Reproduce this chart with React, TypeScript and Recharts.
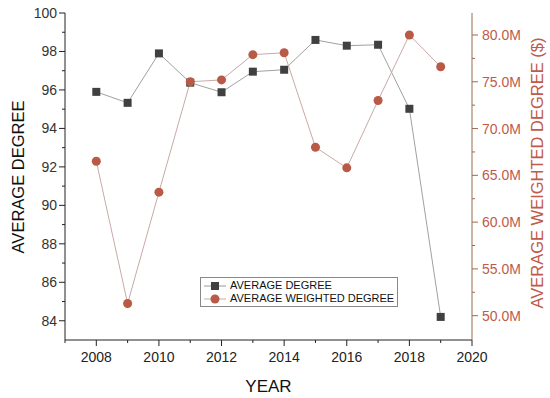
import { LineChart, Line, XAxis, YAxis, Legend } from 'recharts'

const years = [2008, 2009, 2010, 2011, 2012, 2013, 2014, 2015, 2016, 2017, 2018, 2019]
const avgDegree = [95.9, 95.33, 97.9, 96.38, 95.88, 96.95, 97.05, 98.6, 98.3, 98.35, 95.02, 84.2]
const avgWeighted = [66.5, 51.3, 63.2, 75.0, 75.2, 77.9, 78.1, 68.0, 65.8, 73.0, 80.0, 76.6]

const xTicks = [2007, 2008, 2009, 2010, 2011, 2012, 2013, 2014, 2015, 2016, 2017, 2018, 2019, 2020]
const leftTicks = [84, 85, 86, 87, 88, 89, 90, 91, 92, 93, 94, 95, 96, 97, 98, 99, 100]
const rightTicks = [50, 52.5, 55, 57.5, 60, 62.5, 65, 67.5, 70, 72.5, 75, 77.5, 80]

const data = years.map((year, i) => ({
  year,
  deg: avgDegree[i],
  wdeg: avgWeighted[i] * 1e6,
}))

const FONT = '"Liberation Sans", Arial, sans-serif'
const RED = '#b85a45'
const RED_TEXT = '#c05a4a'

const BottomTick = (props: any) => {
  const { x, y, payload } = props
  const major = payload.value % 2 === 0
  return (
    <g>
      <line x1={x} y1={y} x2={x} y2={y + (major ? 6 : 3)} stroke="#222" />
      {major && payload.value !== 2007 && (
        <text x={x} y={y + 17} textAnchor="middle" dominantBaseline="central" fontSize={14} fill="#222" fontFamily={FONT}>
          {payload.value}
        </text>
      )}
    </g>
  )
}

const TopTick = (props: any) => {
  const { x, y } = props
  return <line x1={x} y1={y} x2={x} y2={y + 5} stroke="#222" />
}

const LeftTick = (props: any) => {
  const { x, y, payload } = props
  const major = payload.value % 2 === 0
  return (
    <g>
      <line x1={x} y1={y} x2={x - (major ? 6 : 3)} y2={y} stroke="#222" />
      {major && (
        <text x={x - 8} y={y} textAnchor="end" dominantBaseline="central" fontSize={14} fill="#333" fontFamily={FONT}>
          {payload.value}
        </text>
      )}
    </g>
  )
}

const RightTick = (props: any) => {
  const { x, y, payload } = props
  const v = payload.value / 1e6
  const major = Math.abs(v % 5) < 0.01
  return (
    <g>
      <line x1={x} y1={y} x2={x + (major ? 6 : 3)} y2={y} stroke="#9a6a50" />
      {major && (
        <text x={x + 10} y={y} textAnchor="start" dominantBaseline="central" fontSize={14} fill={RED_TEXT} fontFamily={FONT}>
          {v.toFixed(1)}M
        </text>
      )}
    </g>
  )
}

const SquareDot = (props: any) => {
  const { cx, cy } = props
  if (cx == null || cy == null) return null
  return <rect x={cx - 4} y={cy - 4} width={8} height={8} fill="#404040" />
}

const CircleDot = (props: any) => {
  const { cx, cy } = props
  if (cx == null || cy == null) return null
  return <circle cx={cx} cy={cy} r={4.5} fill={RED} />
}

const LegendBox = () => (
  <div
    style={{
      border: '1px solid #888',
      background: '#fff',
      padding: '1px 3px',
      fontFamily: FONT,
      fontSize: 11,
      color: '#111',
      lineHeight: '13px',
    }}
  >
    <div style={{ display: 'flex', alignItems: 'center' }}>
      <svg width={22} height={12}>
        <line x1={0} y1={6} x2={22} y2={6} stroke="#999" />
        <rect x={7} y={2} width={8} height={8} fill="#404040" />
      </svg>
      <span style={{ marginLeft: 4 }}>AVERAGE DEGREE</span>
    </div>
    <div style={{ display: 'flex', alignItems: 'center' }}>
      <svg width={22} height={12}>
        <line x1={0} y1={6} x2={22} y2={6} stroke="#c9a9a6" />
        <circle cx={11} cy={6} r={4.5} fill={RED} />
      </svg>
      <span style={{ marginLeft: 4 }}>AVERAGE WEIGHTED DEGREE</span>
    </div>
  </div>
)

export default function App() {
  return (
    <div style={{ position: 'absolute', left: 0, top: 0, background: '#fff' }}>
      <LineChart width={550} height={398} data={data} margin={{ top: 13, right: 18, bottom: 28, left: 15 }}>
        <XAxis
          dataKey="year"
          type="number"
          domain={[2007, 2020]}
          ticks={xTicks}
          interval={0}
          height={30}
          tickSize={0}
          tickMargin={0}
          tick={BottomTick}
          stroke="#222"
          label={{ value: 'YEAR', position: 'insideBottom', offset: -22, fontSize: 17, fill: '#111', fontFamily: FONT }}
        />
        <XAxis
          xAxisId="top"
          dataKey="year"
          type="number"
          orientation="top"
          domain={[2007, 2020]}
          ticks={xTicks}
          interval={0}
          height={0}
          tickSize={0}
          tickMargin={0}
          tick={TopTick}
          stroke="#222"
        />
        <YAxis
          yAxisId="left"
          type="number"
          domain={[83, 100]}
          ticks={leftTicks}
          interval={0}
          width={50}
          tickSize={0}
          tickMargin={0}
          tick={LeftTick}
          stroke="#222"
          label={{
            content: () => (
              <text x={18} y={177} transform="rotate(-90, 18, 177)" textAnchor="middle" dominantBaseline="central" fontSize={16.5} fill="#111" fontFamily={FONT}>
                AVERAGE DEGREE
              </text>
            ),
          }}
        />
        <YAxis
          yAxisId="right"
          orientation="right"
          type="number"
          domain={[47.4e6, 82.35e6]}
          ticks={rightTicks.map((t) => t * 1e6)}
          interval={0}
          width={60}
          tickSize={0}
          tickMargin={0}
          tick={RightTick}
          stroke="#9a6a50"
          label={{
            content: () => (
              <text x={537} y={173} transform="rotate(-90, 537, 173)" textAnchor="middle" dominantBaseline="central" fontSize={16.5} fill={RED_TEXT} fontFamily={FONT}>
                AVERAGE WEIGHTED DEGREE ($)
              </text>
            ),
          }}
        />
        <Legend
          layout="vertical"
          align="center"
          verticalAlign="middle"
          content={<LegendBox />}
          wrapperStyle={{ position: 'absolute', left: 200, top: 277, width: 'auto', bottom: 'auto', right: 'auto' }}
        />
        <Line
          yAxisId="left"
          dataKey="deg"
          name="AVERAGE DEGREE"
          stroke="#a0a0a0"
          strokeWidth={1}
          dot={SquareDot}
          activeDot={false}
          isAnimationActive={false}
        />
        <Line
          yAxisId="right"
          dataKey="wdeg"
          name="AVERAGE WEIGHTED DEGREE"
          stroke="#c9a9a6"
          strokeWidth={1}
          dot={CircleDot}
          activeDot={false}
          isAnimationActive={false}
        />
      </LineChart>
    </div>
  )
}
